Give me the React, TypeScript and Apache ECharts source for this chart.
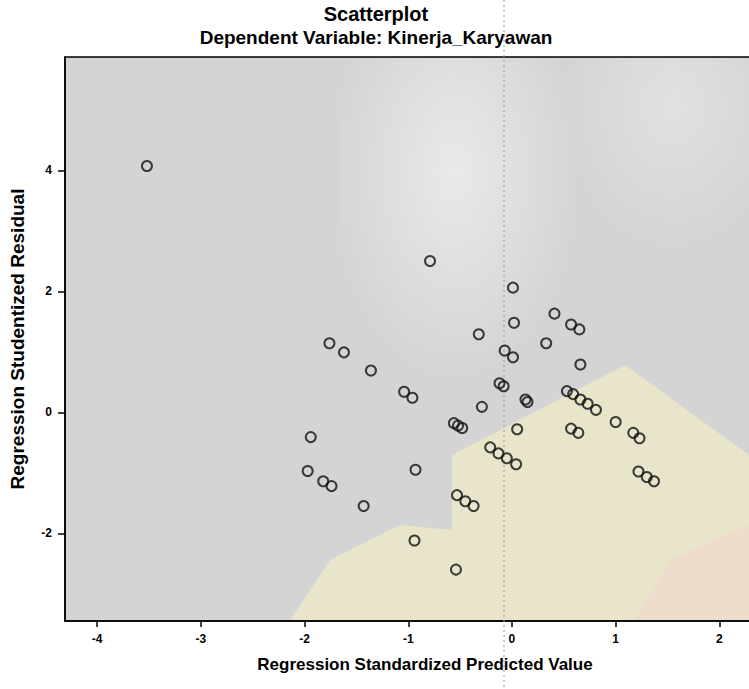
import React, { useEffect, useRef } from "react";
import * as echarts from "echarts";

const titleText = "Scatterplot";
const subtitleText = "Dependent Variable: Kinerja_Karyawan";
const xAxisName = "Regression Standardized Predicted Value";
const yAxisName = "Regression Studentized Residual";

const xTicks = [-4, -3, -2, -1, 0, 1, 2];
const yTicks = [-2, 0, 2, 4];

const predicted = [
  -3.52, -0.79, 0.01, 0.41, -1.76, -1.62, -1.36, -0.32, 0.02, 0.33,
  -0.07, 0.01, 0.57, 0.65, 0.66, -1.04, -0.96, -0.12, -0.08, 0.13,
  0.15, -0.29, 0.53, 0.59, 0.66, 0.73, 0.81, -1.94, -0.56, -0.52,
  -0.48, 0.05, 0.57, 0.64, 1.0, 1.17, 1.23, -0.21, -0.13, -0.05,
  0.04, -1.97, -1.82, -1.74, -0.93, 1.22, 1.3, 1.37, -1.43, -0.53,
  -0.45, -0.37, -0.94, -0.54,
];
const residual = [
  4.07, 2.5, 2.06, 1.63, 1.14, 0.99, 0.69, 1.29, 1.48, 1.14,
  1.02, 0.91, 1.45, 1.37, 0.79, 0.34, 0.24, 0.48, 0.43, 0.21,
  0.17, 0.09, 0.35, 0.3, 0.21, 0.14, 0.04, -0.41, -0.18, -0.22,
  -0.26, -0.28, -0.27, -0.34, -0.16, -0.34, -0.43, -0.58, -0.68, -0.76,
  -0.86, -0.97, -1.14, -1.22, -0.95, -0.98, -1.07, -1.14, -1.55, -1.37,
  -1.47, -1.55, -2.12, -2.6,
];

const FONT = "'Liberation Sans', Arial, sans-serif";

export default function App() {
  const ref = useRef<HTMLDivElement>(null);
  useEffect(() => {
    document.body.style.margin = "0";
    if (!ref.current) return;
    const chart = echarts.init(ref.current, undefined, { renderer: "svg" });
    const data = predicted.map((x, i) => [x, residual[i]]);
    const deco = (shape: any, fill: any, type = "polygon") => ({
      type,
      z: 1,
      silent: true,
      shape,
      style: { fill },
    });
    const whiteGlow = new echarts.graphic.RadialGradient(0.5, 0.3, 0.55, [
      { offset: 0, color: "rgba(255,255,255,0.5)" },
      { offset: 1, color: "rgba(255,255,255,0)" },
    ]);
    const whiteFade = new echarts.graphic.RadialGradient(0.6, 0.2, 0.6, [
      { offset: 0, color: "rgba(255,255,255,0.3)" },
      { offset: 1, color: "rgba(255,255,255,0)" },
    ]);
    chart.setOption({
      animation: false,
      grid: {
        left: 65,
        top: 57,
        width: 720,
        height: 564,
        show: true,
        backgroundColor: "#d4d4d4",
        borderColor: "#000",
        borderWidth: 1.5,
      },
      xAxis: {
        type: "value",
        min: -4.31,
        max: 2.633,
        splitLine: { show: false },
        axisLine: { show: true, onZero: false, lineStyle: { color: "#000", width: 1.5 } },
        axisTick: {
          show: true,
          length: 6,
          customValues: xTicks,
          lineStyle: { color: "#000", width: 1.5 },
        },
        axisLabel: {
          customValues: xTicks,
          color: "#000",
          fontWeight: "bold",
          fontSize: 12,
          fontFamily: FONT,
          margin: 12,
        },
      },
      yAxis: {
        type: "value",
        min: -3.45,
        max: 5.872,
        splitLine: { show: false },
        axisLine: { show: true, onZero: false, lineStyle: { color: "#000", width: 1.5 } },
        axisTick: {
          show: true,
          length: 7,
          customValues: yTicks,
          lineStyle: { color: "#000", width: 1.5 },
        },
        axisLabel: {
          customValues: yTicks,
          color: "#000",
          fontWeight: "bold",
          fontSize: 12,
          fontFamily: FONT,
          margin: 13,
        },
      },
      graphic: [
        deco({ x: 340, y: 58, width: 230, height: 380 }, whiteGlow, "rect"),
        deco({ x: 560, y: 58, width: 189, height: 240 }, whiteFade, "rect"),
        deco(
          {
            points: [
              [290, 620], [330, 560], [400, 525], [452, 530], [452, 455],
              [625, 365], [749, 455], [749, 620],
            ],
          },
          "rgba(248,242,195,0.55)"
        ),
        deco({ points: [[670, 560], [749, 525], [749, 620], [635, 620]] }, "rgba(245,208,205,0.45)"),
        {
          type: "line",
          z: 1,
          silent: true,
          shape: { x1: 504, y1: 0, x2: 504, y2: 689 },
          style: { stroke: "#9a9a9a", lineWidth: 1, lineDash: [2, 3] },
        },
        {
          type: "text",
          style: {
            text: titleText,
            x: 376,
            y: 14,
            textAlign: "center",
            textVerticalAlign: "middle",
            font: `bold 20px ${FONT}`,
            fill: "#000",
          },
        },
        {
          type: "text",
          style: {
            text: subtitleText,
            x: 376,
            y: 37,
            textAlign: "center",
            textVerticalAlign: "middle",
            font: `bold 19px ${FONT}`,
            fill: "#000",
          },
        },
        {
          type: "text",
          style: {
            text: xAxisName,
            x: 425,
            y: 664,
            textAlign: "center",
            textVerticalAlign: "middle",
            font: `bold 17px ${FONT}`,
            fill: "#000",
          },
        },
        {
          type: "text",
          x: 17,
          y: 339,
          rotation: Math.PI / 2,
          style: {
            text: yAxisName,
            x: 0,
            y: 0,
            textAlign: "center",
            textVerticalAlign: "middle",
            font: `bold 19px ${FONT}`,
            fill: "#000",
          },
        },
      ],
      series: [
        {
          type: "scatter",
          data,
          symbol: "circle",
          symbolSize: 10,
          itemStyle: { color: "transparent", borderColor: "#111", borderWidth: 2 },
          z: 5,
        },
      ],
    });
    return () => chart.dispose();
  }, []);
  return (
    <div style={{ width: 749, height: 689, overflow: "hidden" }}>
      <div ref={ref} style={{ width: 800, height: 689 }} />
    </div>
  );
}
